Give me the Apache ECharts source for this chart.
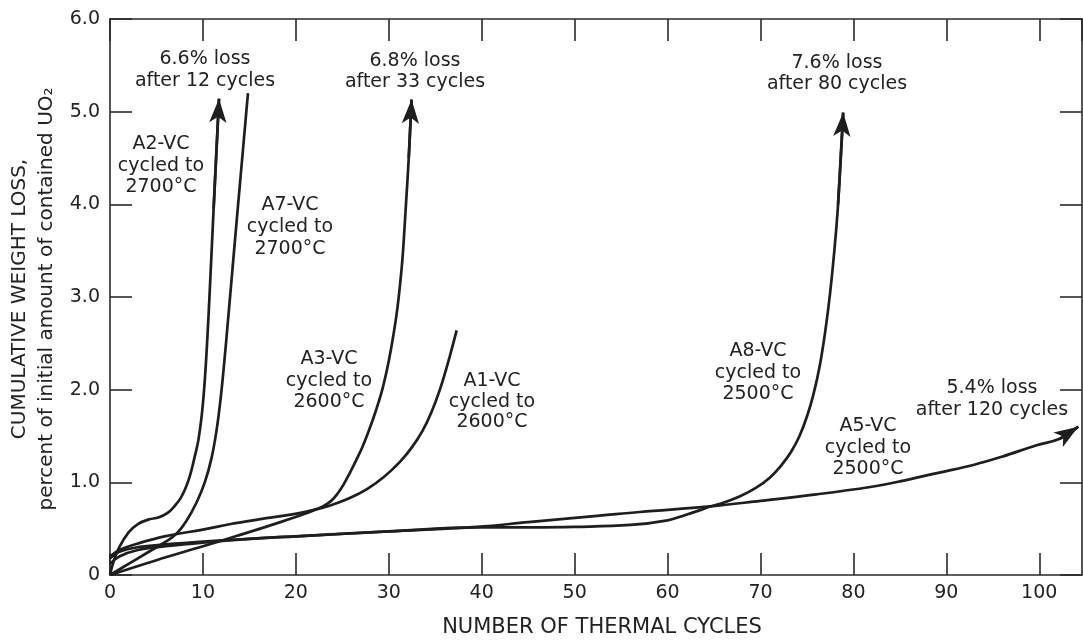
<!DOCTYPE html>
<html><head><meta charset="utf-8">
<script src="https://cdn.jsdelivr.net/npm/echarts@6/dist/echarts.min.js"></script>
<style>html,body{margin:0;padding:0;background:#fff}#c{width:1083px;height:641px}</style>
</head><body><div id="c"></div>
<script>
// ---- data ----
const xTickLabels = ['0','10','20','30','40','50','60','70','80','90','100'];
const yTickLabels = ['0','1.0','2.0','3.0','4.0','5.0','6.0'];

const a2 = [[0,0],[0.4,0.15],[1,0.3],[2,0.46],[3,0.55],[4.2,0.6],[5.2,0.62],[6.2,0.67],[7.0,0.75],[7.6,0.83],[8.1,0.93],[8.6,1.07],[9.1,1.27],[9.5,1.45],[9.9,1.75],[10.2,2.1],[10.5,2.6],[10.75,3.1],[11.15,3.95],[11.73,5.14]];
const a7 = [[0,0],[2,0.12],[4,0.24],[6,0.36],[7.2,0.45],[8.2,0.58],[9.3,0.78],[10.2,1.0],[10.9,1.25],[11.45,1.55],[11.9,1.9],[12.3,2.3],[12.7,2.75],[13.18,3.3],[13.7,3.9],[14.23,4.5],[14.67,5.0],[14.85,5.2]];
const a3 = [[0,0],[5,0.16],[10,0.31],[13.6,0.42],[18,0.56],[21.5,0.68],[22.9,0.74],[23.8,0.8],[24.5,0.88],[25.1,0.97],[25.8,1.1],[26.5,1.24],[27.2,1.39],[27.9,1.57],[28.6,1.77],[29.3,2.0],[29.9,2.26],[30.4,2.53],[30.85,2.82],[31.2,3.12],[31.5,3.45],[31.85,4.0],[32.15,4.5],[32.45,5.13]];
const a1 = [[0,0.2],[1,0.27],[3,0.34],[6,0.42],[10,0.49],[13,0.55],[16,0.6],[20.5,0.67],[23,0.73],[24,0.76],[25.8,0.83],[27.7,0.93],[29.5,1.06],[31.2,1.22],[32.5,1.38],[33.6,1.55],[34.6,1.76],[35.5,2.0],[36.4,2.3],[37.3,2.64]];
const a8 = [[0,0.18],[1,0.25],[3,0.3],[6,0.33],[10,0.36],[15,0.39],[20.5,0.42],[30,0.47],[39.5,0.515],[45,0.515],[50,0.52],[56,0.54],[60,0.59],[62,0.65],[63.5,0.7],[64.6,0.74],[66,0.78],[67.8,0.85],[69.5,0.94],[71,1.05],[72.3,1.19],[73.3,1.33],[74.2,1.5],[75.0,1.71],[75.7,1.95],[76.4,2.27],[77.0,2.65],[77.5,3.05],[77.95,3.5],[78.35,4.0],[78.9,4.99]];
const a5 = [[0,0.12],[1,0.2],[3,0.27],[6,0.31],[10,0.35],[15,0.39],[20.5,0.42],[30,0.47],[39.5,0.52],[45,0.57],[52.7,0.64],[57,0.68],[64.6,0.74],[70,0.8],[76,0.87],[81.8,0.95],[85,1.01],[89,1.1],[93,1.19],[96.1,1.28],[99.7,1.4],[102.2,1.47],[104.2,1.6]];

const curves = [
  {name:'A2-VC', data:a2, arrow:true},
  {name:'A7-VC', data:a7, arrow:false},
  {name:'A3-VC', data:a3, arrow:true},
  {name:'A1-VC', data:a1, arrow:false},
  {name:'A8-VC', data:a8, arrow:true},
  {name:'A5-VC', data:a5, arrow:true}
];

// ---- annotation text (layout kept separately) ----
const notes = [
  {text:'6.6% loss\nafter 12 cycles', x:205, y:70, lh:22},
  {text:'A2-VC\ncycled to\n2700°C', x:161, y:166, lh:21.5},
  {text:'A7-VC\ncycled to\n2700°C', x:290, y:227, lh:22},
  {text:'6.8% loss\nafter 33 cycles', x:415, y:71.5, lh:21},
  {text:'7.6% loss\nafter 80 cycles', x:837, y:73.5, lh:21},
  {text:'A3-VC\ncycled to\n2600°C', x:329, y:381, lh:21.5},
  {text:'A1-VC\ncycled to\n2600°C', x:492, y:402, lh:20.5},
  {text:'A8-VC\ncycled to\n2500°C', x:758, y:373, lh:21.5},
  {text:'A5-VC\ncycled to\n2500°C', x:868, y:448, lh:21.5},
  {text:'5.4% loss\nafter 120 cycles', x:992, y:399, lh:22}
];

const INK = '#1e1e1e';
const FONT = 'DejaVu Sans';
const mkLine = () => ({show:true, onZero:false, lineStyle:{color:'#2a2a2a', width:1.6}});
const mkTick = () => ({show:true, inside:true, length:22, lineStyle:{color:'#2a2a2a', width:1.6}});

const chart = echarts.init(document.getElementById('c'), null, {renderer:'canvas'});

const series = curves.map(c => {
  const s = {
    name:c.name, type:'line', data:c.data, xAxisIndex:0, yAxisIndex:0,
    showSymbol:false, symbol:'none', smooth:0.4,
    lineStyle:{color:INK, width:2.7}, z:3, animation:false, silent:true
  };
  if (c.arrow) {
    const n = c.data.length;
    s.markLine = {
      silent:true, animation:false, symbol:['none','arrow'], symbolSize:[13,24],
      lineStyle:{color:INK, width:2.7, type:'solid'}, label:{show:false},
      emphasis:{disabled:true},
      data:[[{coord:c.data[n-2]},{coord:c.data[n-1]}]]
    };
  }
  return s;
});

const graphic = notes.map(n => ({
  type:'text', x:n.x, y:n.y, silent:true, z:10,
  style:{text:n.text, fill:'#222', font:'19px "'+FONT+'"', align:'center', verticalAlign:'middle', lineHeight:n.lh}
}));
graphic.push({type:'text', x:20, y:299, rotation:Math.PI/2, silent:true,
  style:{text:'CUMULATIVE WEIGHT LOSS,', fill:'#222', font:'20px "'+FONT+'"', align:'center', verticalAlign:'middle'}});
graphic.push({type:'text', x:47, y:299, rotation:Math.PI/2, silent:true,
  style:{text:'percent of initial amount of contained UO₂', fill:'#222', font:'20px "'+FONT+'"', align:'center', verticalAlign:'middle'}});
graphic.push({type:'text', x:602, y:628, silent:true,
  style:{text:'NUMBER OF THERMAL CYCLES', fill:'#222', font:'21px "'+FONT+'"', align:'center', verticalAlign:'middle'}});

chart.setOption({
  animation:false,
  backgroundColor:'#fff',
  grid:{left:110, right:1, top:19, bottom:66, containLabel:false},
  xAxis:[
    {type:'value', min:0, max:104.6, interval:10, position:'bottom', axisLine:mkLine(), axisTick:mkTick(),
     splitLine:{show:false}, minorTick:{show:false},
     axisLabel:{margin:9, fontSize:19, color:'#222', fontFamily:FONT, showMaxLabel:false,
       formatter:v => (Math.abs(v % 10) < 1e-6 && v <= 100) ? xTickLabels[Math.round(v/10)] : ''}},
    {type:'value', min:0, max:104.6, interval:10, position:'top', axisLine:mkLine(), axisTick:mkTick(),
     splitLine:{show:false}, axisLabel:{show:false}}
  ],
  yAxis:[
    {type:'value', min:0, max:6, interval:1, position:'left', axisLine:mkLine(), axisTick:mkTick(),
     splitLine:{show:false},
     axisLabel:{margin:10, fontSize:19, color:'#222', fontFamily:FONT,
       formatter:v => yTickLabels[Math.round(v)]}},
    {type:'value', min:0, max:6, interval:1, position:'right', axisLine:mkLine(), axisTick:mkTick(),
     splitLine:{show:false}, axisLabel:{show:false}}
  ],
  series,
  graphic
});
</script></body></html>
